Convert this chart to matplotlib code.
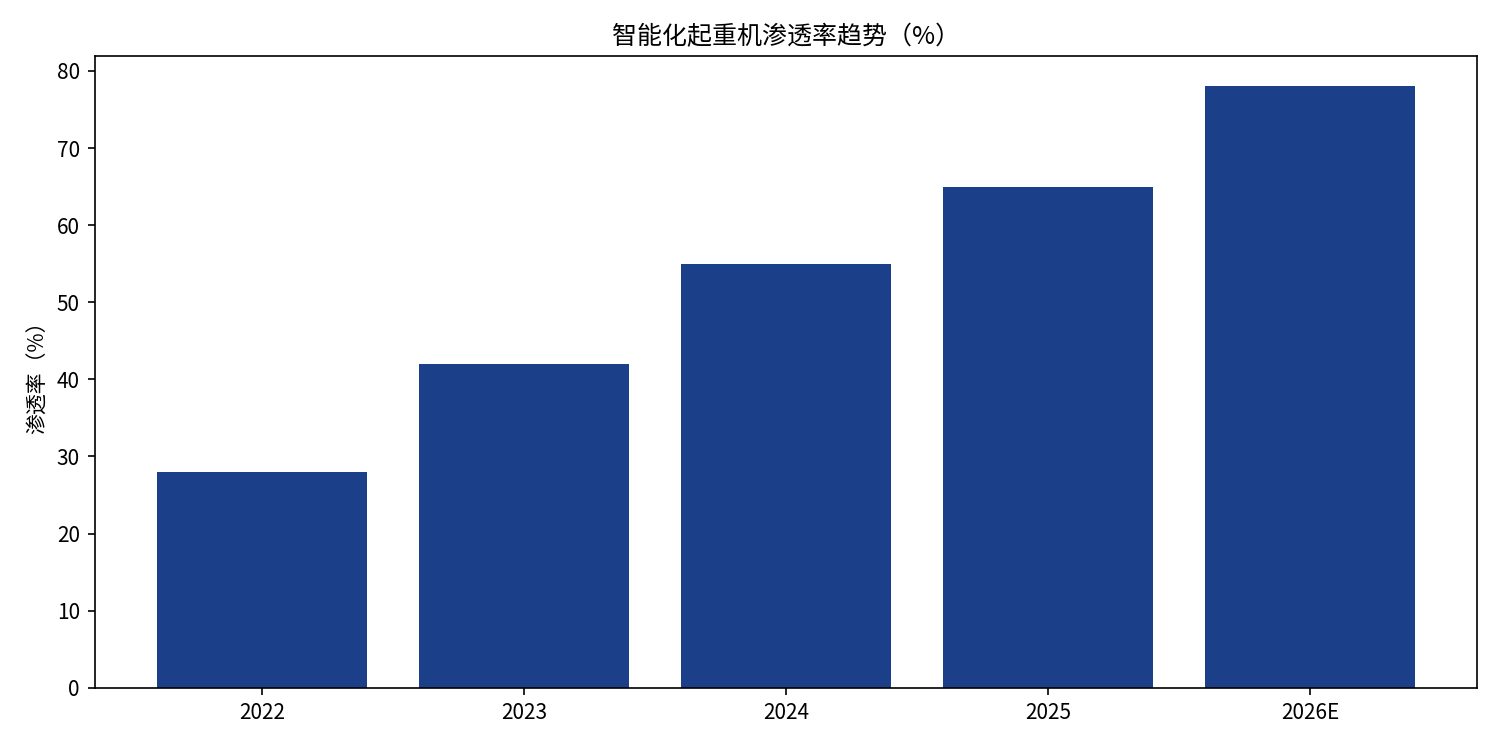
import matplotlib
matplotlib.use('Agg')
import matplotlib.pyplot as plt

plt.rcParams['font.family'] = ['Noto Sans CJK SC', 'DejaVu Sans']
plt.rcParams['axes.unicode_minus'] = False

# 数据
years = ['2022', '2023', '2024', '2025', '2026E']
rates = [28, 42, 55, 65, 78]

fig, ax = plt.subplots(figsize=(10, 5), dpi=150)
ax.bar(years, rates, color='#1c3f8a', width=0.8)

ax.set_title('智能化起重机渗透率趋势（%）', fontsize=12)
ax.set_ylabel('渗透率（%）', fontsize=10)
ax.tick_params(axis='both', labelsize=10)

plt.subplots_adjust(left=0.063, right=0.985, top=0.925, bottom=0.083)
plt.savefig('out.png', dpi=150)
